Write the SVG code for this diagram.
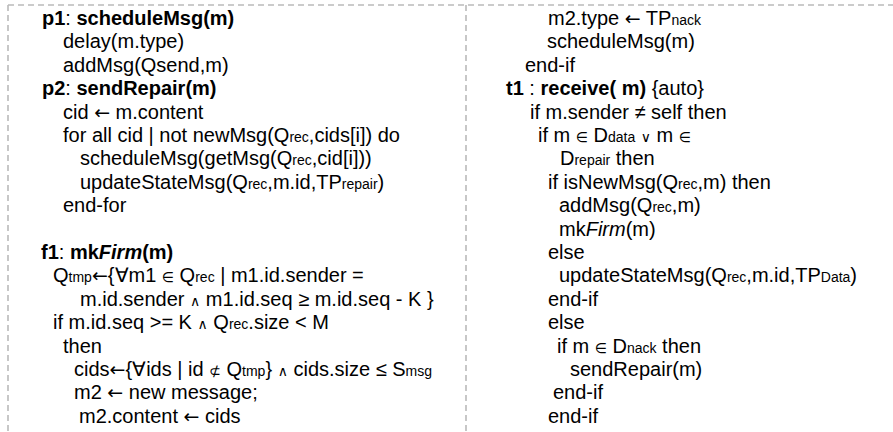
<svg xmlns="http://www.w3.org/2000/svg" width="893" height="432" viewBox="0 0 893 432">
  <style>
    .frame { stroke: #bababa; stroke-width: 1.6; stroke-dasharray: 6 4; fill: none; }
    text { font-family: "Liberation Sans", Arial, sans-serif; font-size: 20px; fill: #000; }
    .b { font-weight: bold; }
    .i { font-style: italic; }
    .s { font-size: 14px; }
    .sym { font-family: "DejaVu Sans", sans-serif; font-size: 14px; }
    .arr { font-family: "DejaVu Sans", sans-serif; font-size: 19px; }
  </style>
  <rect width="893" height="432" fill="#fff"/>

  <!-- dashed frame and column divider -->
  <g id="frame">
    <line class="frame" x1="8" y1="5" x2="893" y2="5"/>
    <line class="frame" x1="8" y1="5" x2="8" y2="432"/>
    <line class="frame" x1="466" y1="5" x2="466" y2="432"/>
  </g>

  <!-- left column: p1, p2, f1 -->
  <g id="left-column">
    <text x="42" y="25"><tspan class="b">p1</tspan>: <tspan class="b">scheduleMsg(m)</tspan></text>
    <text x="63" y="48.4">delay(m.type)</text>
    <text x="63" y="71.8">addMsg(Qsend,m)</text>
    <text x="42" y="95.2"><tspan class="b">p2</tspan>: <tspan class="b">sendRepair(m)</tspan></text>
    <text x="63" y="118.6">cid <tspan class="arr">←</tspan> m.content</text>
    <text x="63" y="142">for all cid | not newMsg(Q<tspan class="s">rec</tspan>,cids[i]) do</text>
    <text x="80" y="165.4">scheduleMsg(getMsg(Q<tspan class="s">rec</tspan>,cid[i]))</text>
    <text x="80" y="188.8">updateStateMsg(Q<tspan class="s">rec</tspan>,m.id,TP<tspan class="s">repair</tspan>)</text>
    <text x="63" y="212.2">end-for</text>
    <text x="41" y="259"><tspan class="b">f1</tspan>: <tspan class="b">mk<tspan class="i">Firm</tspan>(m)</tspan></text>
    <text x="53" y="282.4">Q<tspan class="s">tmp</tspan><tspan class="arr">←</tspan>{∀m1 <tspan class="sym">∈</tspan> Q<tspan class="s">rec</tspan> | m1.id.sender  =</text>
    <text x="80" y="305.8">m.id.sender  <tspan class="sym">∧</tspan> m1.id.seq ≥ m.id.seq - K }</text>
    <text x="53" y="329.2">if m.id.seq &gt;= K <tspan class="sym">∧</tspan> Q<tspan class="s">rec</tspan>.size &lt; M</text>
    <text x="63" y="352.6">then</text>
    <text x="74" y="376">cids<tspan class="arr">←</tspan>{∀ids | id <tspan class="sym">⊄</tspan> Q<tspan class="s">tmp</tspan>} <tspan class="sym">∧</tspan>  cids.size ≤ S<tspan class="s">msg</tspan></text>
    <text x="74" y="399.4">m2 <tspan class="arr">←</tspan> new message;</text>
    <text x="79" y="422.8">m2.content <tspan class="arr">←</tspan> cids</text>
  </g>

  <!-- right column: end of f1, t1 -->
  <g id="right-column">
    <text x="548" y="25">m2.type <tspan class="arr">←</tspan> TP<tspan class="s">nack</tspan></text>
    <text x="547" y="48.4">scheduleMsg(m)</text>
    <text x="525" y="71.8">end-if</text>
    <text x="506" y="95.2"><tspan class="b">t1</tspan> : <tspan class="b">receive( m)</tspan> {auto}</text>
    <text x="530" y="118.6">if m.sender ≠ self then</text>
    <text x="538" y="142">if m <tspan class="sym">∈</tspan>  D<tspan class="s">data</tspan> <tspan class="sym">∨</tspan> m <tspan class="sym">∈</tspan></text>
    <text x="560" y="165.4">D<tspan class="s">repair</tspan> then</text>
    <text x="548" y="188.8">if isNewMsg(Q<tspan class="s">rec</tspan>,m) then</text>
    <text x="559" y="212.2">addMsg(Q<tspan class="s">rec</tspan>,m)</text>
    <text x="559" y="235.6">mk<tspan class="i">Firm</tspan>(m)</text>
    <text x="548" y="259">else</text>
    <text x="559" y="282.4">updateStateMsg(Q<tspan class="s">rec</tspan>,m.id,TP<tspan class="s">Data</tspan>)</text>
    <text x="548" y="305.8">end-if</text>
    <text x="548" y="329.2">else</text>
    <text x="557" y="352.6">if m <tspan class="sym">∈</tspan>  D<tspan class="s">nack</tspan> then</text>
    <text x="570" y="376">sendRepair(m)</text>
    <text x="553" y="399.4">end-if</text>
    <text x="548" y="422.8">end-if</text>
  </g>
</svg>
